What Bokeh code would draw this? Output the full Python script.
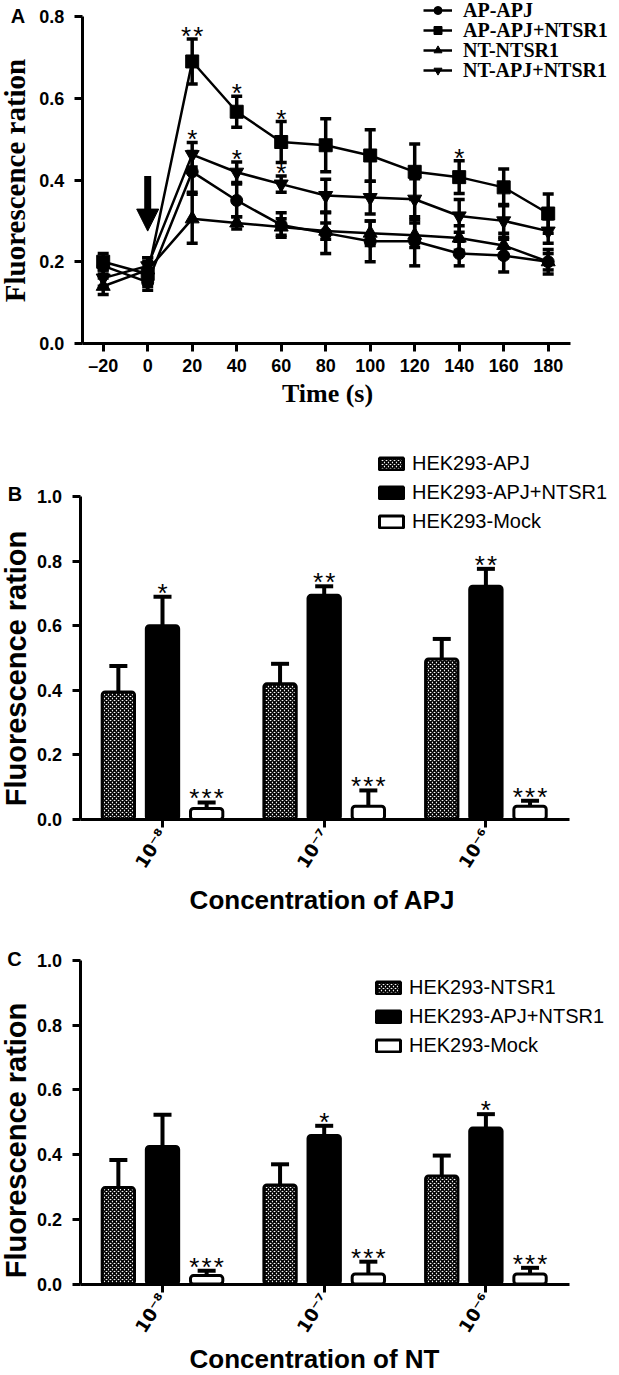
import math
from bokeh.plotting import figure
from bokeh.models import (ColumnDataSource, Whisker, TeeHead, Legend, LegendItem,
                          Label, Arrow, NormalHead, FixedTicker, Range1d, NumeralTickFormatter)
from bokeh.layouts import column
from bokeh.embed import file_html
from bokeh.resources import INLINE
from bokeh.core.properties import value

# ---------------- Panel A data ----------------
time_s = [-20, 0, 20, 40, 60, 80, 100, 120, 140, 160, 180]
a_names = ["AP-APJ", "AP-APJ+NTSR1", "NT-NTSR1", "NT-APJ+NTSR1"]
ap_apj_mean = [0.19, 0.15, 0.42, 0.35, 0.29, 0.27, 0.25, 0.25, 0.22, 0.215, 0.20]
ap_apj_sem = [0.02, 0.02, 0.05, 0.04, 0.03, 0.05, 0.05, 0.06, 0.03, 0.04, 0.02]
ap_both_mean = [0.20, 0.17, 0.69, 0.567, 0.493, 0.485, 0.46, 0.42, 0.407, 0.382, 0.318]
ap_both_sem = [0.02, 0.03, 0.055, 0.038, 0.05, 0.065, 0.063, 0.068, 0.04, 0.045, 0.048]
nt_ntsr1_mean = [0.14, 0.18, 0.305, 0.295, 0.285, 0.275, 0.27, 0.265, 0.258, 0.24, 0.20]
nt_ntsr1_sem = [0.02, 0.03, 0.06, 0.015, 0.02, 0.02, 0.03, 0.03, 0.03, 0.03, 0.03]
nt_both_mean = [0.16, 0.19, 0.462, 0.419, 0.39, 0.362, 0.357, 0.353, 0.312, 0.300, 0.275]
nt_both_sem = [0.02, 0.02, 0.03, 0.025, 0.02, 0.04, 0.04, 0.05, 0.04, 0.04, 0.03]

# significance marks (series index, time, text)
sig_a_series = [1, 1, 1, 1, 3, 3, 3]
sig_a_time = [20, 40, 60, 140, 20, 40, 60]
sig_a_text = ["*\u200a*", "*", "*", "*", "*", "*", "*"]

# stimulus arrow (time, start level, end level)
arrow_time = 0
arrow_levels = [0.41, 0.275]

a_xticks = time_s
a_yticks = [0.0, 0.2, 0.4, 0.6, 0.8]

# ---------------- Panels B / C data ----------------
conc_pos = [1, 2, 3]
conc_labels = ["10⁻⁸", "10⁻⁷", "10⁻⁶"]
bar_yticks = [0.0, 0.2, 0.4, 0.6, 0.8, 1.0]

b_names = ["HEK293-APJ", "HEK293-APJ+NTSR1", "HEK293-Mock"]
b_single = [0.395, 0.42, 0.497]
b_single_sem = [0.08, 0.062, 0.062]
b_both = [0.60, 0.694, 0.722]
b_both_sem = [0.09, 0.028, 0.054]
b_mock = [0.034, 0.041, 0.041]
b_mock_sem = [0.019, 0.049, 0.017]
b_sig_both = ["*", "*\u200a*", "*\u200a*"]
b_sig_mock = ["*\u200a*\u200a*", "*\u200a*\u200a*", "*\u200a*\u200a*"]

c_names = ["HEK293-NTSR1", "HEK293-APJ+NTSR1", "HEK293-Mock"]
c_single = [0.298, 0.306, 0.334]
c_single_sem = [0.085, 0.064, 0.063]
c_both = [0.425, 0.459, 0.482]
c_both_sem = [0.098, 0.03, 0.043]
c_mock = [0.026, 0.031, 0.031]
c_mock_sem = [0.015, 0.038, 0.019]
c_sig_both = ["", "*", "*"]
c_sig_mock = ["*\u200a*\u200a*", "*\u200a*\u200a*", "*\u200a*\u200a*"]

SANS = "Liberation Sans"
SERIF = "Liberation Serif"
W = 619


def px_range(v1, p1, v2, p2, size, vertical=False):
    k = (v2 - v1) / (p2 - p1)
    val = lambda p: v1 + (p - p1) * k
    if vertical:
        return Range1d(val(size), val(0)), abs(1.0 / k)
    return Range1d(val(0), val(size)), abs(1.0 / k)


def make_fig(height, xr, yr):
    p = figure(width=W, height=height, output_backend="svg", toolbar_location=None,
               x_range=xr, y_range=yr, min_border=0, min_border_left=0, min_border_right=0,
               min_border_top=0, min_border_bottom=0, title=None)
    p.xgrid.visible = False
    p.ygrid.visible = False
    p.outline_line_color = None
    p.background_fill_color = None
    for ax in (p.xaxis[0], p.yaxis[0]):
        ax.axis_line_width = 3
        ax.major_tick_line_width = 3
        ax.major_tick_out = 8
        ax.major_tick_in = 0
        ax.minor_tick_line_color = None
        ax.major_label_text_font = SANS
        ax.major_label_text_font_style = "bold"
        ax.major_label_text_font_size = "18px"
        ax.major_label_text_color = "black"
    return p


def add_label(p, x, y, text, font, size, angle=0.0):
    p.add_layout(Label(x=x, y=y, x_units="screen", y_units="screen", text=text,
                       text_font=font, text_font_style="bold", text_font_size=size,
                       text_color="black", angle=angle,
                       text_align="center", text_baseline="middle"))


# ================= Panel A =================
HA = 440
xrA, ppx_A = px_range(-20, 102.7, 180, 547.7, W)
yrA, ppy_A = px_range(0.0, 343, 0.8, 16, HA, vertical=True)
pA = make_fig(HA, xrA, yrA)
x_axis_start_A = -29.4
x_axis_end_A = 190
pA.xaxis.fixed_location = 0.0
pA.xaxis.bounds = (x_axis_start_A, x_axis_end_A)
pA.yaxis.fixed_location = x_axis_start_A
pA.yaxis.bounds = (0.0, 0.8)
pA.xaxis.ticker = FixedTicker(ticks=a_xticks)
pA.xaxis.major_label_overrides = {-20: "–20"}
pA.yaxis.ticker = FixedTicker(ticks=a_yticks)
pA.yaxis.formatter = NumeralTickFormatter(format="0.0")
pA.xaxis.major_label_standoff = 4
pA.yaxis.major_label_standoff = 10

a_means = [ap_apj_mean, ap_both_mean, nt_ntsr1_mean, nt_both_mean]
a_sems = [ap_apj_sem, ap_both_sem, nt_ntsr1_sem, nt_both_sem]
a_markers = ["circle", "square", "triangle", "inverted_triangle"]
a_marker_sizes = [12, 13, 14, 14]
a_leg_rows = [10, 30, 50, 70]
for i, name in enumerate(a_names):
    m = a_means[i]
    s = a_sems[i]
    src = ColumnDataSource(dict(x=time_s, y=m,
                                lo=[a - b for a, b in zip(m, s)],
                                hi=[a + b for a, b in zip(m, s)]))
    pA.add_layout(Whisker(base="x", lower="lo", upper="hi", source=src, line_width=3.5,
                          line_color="black",
                          upper_head=TeeHead(size=11, line_width=3.5, line_color="black"),
                          lower_head=TeeHead(size=11, line_width=3.5, line_color="black")))
    lr = pA.line("x", "y", source=src, line_width=2.5, line_color="black")
    sr = pA.scatter("x", "y", source=src, marker=a_markers[i], size=a_marker_sizes[i],
                    fill_color="black", line_color="black")
    pA.add_layout(Legend(items=[LegendItem(label=name, renderers=[lr, sr])],
                         location=(423, HA - (a_leg_rows[i] + 11.5)),
                         label_text_font=SERIF, label_text_font_style="bold",
                         label_text_font_size="20px", label_text_color="black",
                         glyph_width=29, glyph_height=20, label_height=20, spacing=0,
                         padding=0, margin=0, label_standoff=11,
                         border_line_color=None, background_fill_alpha=0))

sig_x, sig_y = [], []
for si, t in zip(sig_a_series, sig_a_time):
    k = time_s.index(t)
    sig_x.append(t)
    sig_y.append(a_means[si][k] + a_sems[si][k] + 3.0 / ppy_A)
pA.text(x=sig_x, y=sig_y, text=sig_a_text, text_align="center", text_baseline="alphabetic",
        text_font=value(SANS), text_font_size="26px", text_color="black")

pA.add_layout(Arrow(end=NormalHead(size=22, fill_color="black", line_color="black", line_width=1),
                    x_start=arrow_time, y_start=arrow_levels[0],
                    x_end=arrow_time, y_end=arrow_levels[1],
                    line_width=7, line_color="black"))
add_label(pA, 17.5, HA - 15, "A", SANS, "20px")
add_label(pA, 327, HA - 393, "Time (s)", SERIF, "26px")
add_label(pA, 14, HA - 180, "Fluorescence ration", SERIF, "29px", angle=math.pi / 2)


# ================= Panels B / C =================
def bar_panel(H, y0_px, y1_px, names, single, single_sem, both, both_sem,
              mock, mock_sem, sig_both, sig_mock, xtitle, xtitle_pos, ytitle_y,
              letter, letter_pos, leg_x, leg_top):
    xr, ppx = px_range(1, 162, 3, 485.4, W)
    yr, ppy = px_range(0.0, y0_px, 1.0, y1_px, H, vertical=True)
    p = make_fig(H, xr, yr)
    x_axis_start = 0.49
    x_axis_end = 3.52
    p.xaxis.fixed_location = 0.0
    p.xaxis.bounds = (x_axis_start, x_axis_end)
    p.yaxis.fixed_location = x_axis_start
    p.yaxis.bounds = (0.0, 1.0)
    p.xaxis.ticker = FixedTicker(ticks=conc_pos)
    p.xaxis.major_label_overrides = {k: v for k, v in zip(conc_pos, conc_labels)}
    p.xaxis.major_label_orientation = 1.0
    p.xaxis.major_label_text_font = "DejaVu Sans"
    p.xaxis.major_label_text_font_size = "18px"
    p.xaxis.major_label_standoff = 3
    p.yaxis.ticker = FixedTicker(ticks=bar_yticks)
    p.yaxis.formatter = NumeralTickFormatter(format="0.0")
    p.yaxis.major_label_standoff = 10

    off = 0.273
    bw = 0.2
    groups = [(single, single_sem, -off), (both, both_sem, 0.0), (mock, mock_sem, off)]
    rends = []
    for gi, (vals, sems, dx) in enumerate(groups):
        xs = [c + dx for c in conc_pos]
        src = ColumnDataSource(dict(x=xs, top=vals, hi=[v + s for v, s in zip(vals, sems)]))
        p.add_layout(Whisker(base="x", lower="top", upper="hi", source=src, line_width=4,
                             line_color="black", lower_head=None,
                             upper_head=TeeHead(size=18, line_width=4, line_color="black")))
        if gi == 0:
            r = p.vbar(x="x", top="top", width=bw, bottom=0, source=src, fill_color="white",
                       hatch_pattern="diagonal_cross", hatch_scale=4, hatch_weight=1.6,
                       hatch_color="black", line_color="black", line_width=3, border_radius=3)
        elif gi == 1:
            r = p.vbar(x="x", top="top", width=bw, bottom=0, source=src, fill_color="black",
                       line_color="black", line_width=3, border_radius=3)
        else:
            r = p.vbar(x="x", top="top", width=bw, bottom=0, source=src, fill_color="white",
                       line_color="black", line_width=3, border_radius=3)
        rends.append(r)

    sx, sy, st = [], [], []
    for k, c in enumerate(conc_pos):
        if sig_both[k]:
            sx.append(c)
            sy.append(both[k] + both_sem[k] + 4.0 / ppy)
            st.append(sig_both[k])
        if sig_mock[k]:
            sx.append(c + off)
            sy.append(mock[k] + mock_sem[k] + 4.0 / ppy)
            st.append(sig_mock[k])
    p.text(x=sx, y=sy, text=st, text_align="center", text_baseline="alphabetic",
           text_font=value(SANS), text_font_size="26px", text_color="black")

    leg_h = 3 * 23 + 2 * 6
    p.add_layout(Legend(items=[LegendItem(label=n, renderers=[r]) for n, r in zip(names, rends)],
                        location=(leg_x, H - (leg_top + leg_h)),
                        label_text_font=SANS, label_text_font_size="20px",
                        label_text_color="black", glyph_width=30, glyph_height=15,
                        label_height=15, spacing=6, padding=0, margin=0, label_standoff=6,
                        border_line_color=None, background_fill_alpha=0))
    add_label(p, letter_pos[0], H - letter_pos[1], letter, SANS, "20px")
    add_label(p, xtitle_pos[0], H - xtitle_pos[1], xtitle, SANS, "26px")
    add_label(p, 15, H - ytitle_y, "Fluorescence ration", SANS, "29px", angle=math.pi / 2)
    return p


pB = bar_panel(475, 379, 56, b_names, b_single, b_single_sem, b_both, b_both_sem,
               b_mock, b_mock_sem, b_sig_both, b_sig_mock,
               "Concentration of APJ", (322, 459), 228, "B", (14.5, 53.5), 376, 11.5)
pC = bar_panel(460, 368.5, 45, c_names, c_single, c_single_sem, c_both, c_both_sem,
               c_mock, c_mock_sem, c_sig_both, c_sig_mock,
               "Concentration of NT", (314, 443), 225, "C", (14, 43.5), 373, 60.5)

layout = column(pA, pB, pC, spacing=0)
open("out.html", "w").write(file_html(layout, INLINE))
